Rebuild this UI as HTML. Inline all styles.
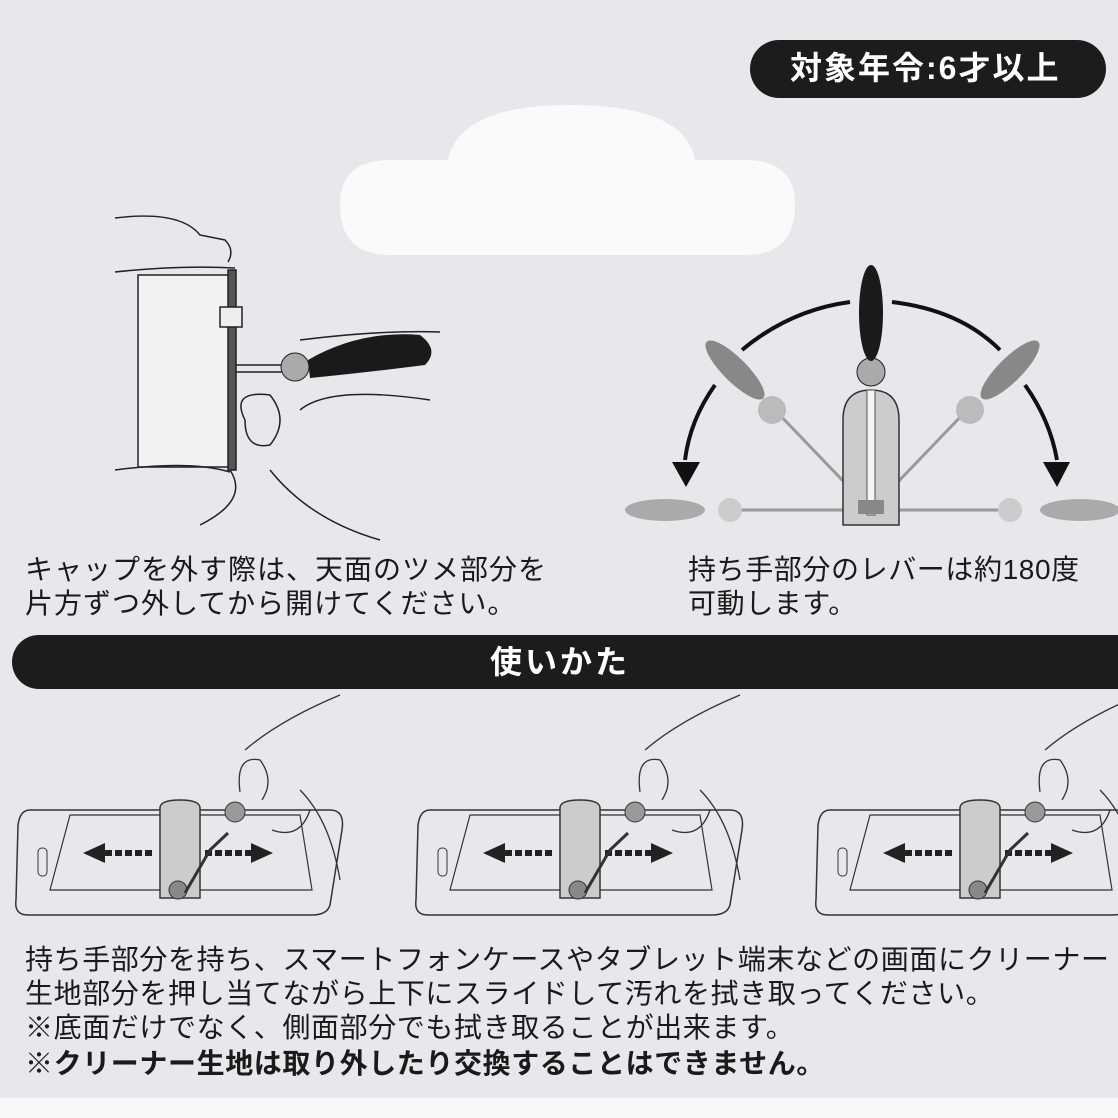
<!DOCTYPE html>
<html><head><meta charset="utf-8"><style>
body{margin:0;width:1118px;height:1118px;overflow:hidden;background:#e8e7ec;position:relative;font-family:"Liberation Sans","Noto Sans CJK JP",sans-serif;color:#1a1a1a}
.t{position:absolute;font-size:28px;letter-spacing:0.6px;white-space:nowrap;line-height:1}
.b{font-weight:bold}
</style></head><body>
<div style="position:absolute;left:750px;top:40px;width:356px;height:58px;background:#1c1c1c;border-radius:29px"></div>
<div class="t b" style="left:790px;top:52px;color:#fff;font-size:32px;letter-spacing:2px">対象年令:6才以上</div>

<svg style="position:absolute;left:0;top:0" width="1118" height="1118">
<path d="M390 160 H448 Q460 105 570 105 Q685 105 695 160 H745 Q795 160 795 205 Q795 255 745 255 H390 Q340 255 340 205 Q340 160 390 160Z" fill="#fafafb"/>
<g fill="none" stroke="#222" stroke-width="1.5">
<path d="M115 218 Q180 210 200 235 L225 240 Q235 250 228 262"/>
<path d="M115 272 Q180 265 235 268"/>
<rect x="138" y="275" width="94" height="192" fill="#f2f2f4"/>
<rect x="228" y="270" width="8" height="200" fill="#555"/>
<rect x="220" y="307" width="22" height="20" fill="#eee"/>
<path d="M236 365 H290 M236 372 H290"/>
<path d="M300 340 Q380 330 440 332"/>
<path d="M300 410 Q330 385 430 400"/>
<path d="M245 420 Q230 390 270 395 Q290 420 270 445 Q245 450 245 420"/>
<path d="M230 470 Q250 500 200 525 M270 470 Q310 520 380 540"/>
<path d="M115 470 Q190 460 230 472"/>
</g>
<circle cx="295" cy="367" r="14" fill="#aaa" stroke="#222"/>
<path d="M308 360 Q360 330 420 335 Q440 350 425 365 Q370 372 310 378Z" fill="#1a1a1a"/>
<g fill="none" stroke="#111" stroke-width="4">
<path d="M742 350 Q790 310 850 302"/>
<path d="M892 302 Q960 310 1000 350"/>
<path d="M715 385 Q690 420 685 460"/>
<path d="M1025 385 Q1050 420 1057 460"/>
</g>
<path d="M672 462 H700 L686 487Z M1043 462 H1070 L1057 487Z" fill="#111"/>
<g stroke="#999" stroke-width="3"><line x1="871" y1="510" x2="775" y2="410"/><line x1="871" y1="510" x2="967" y2="410"/><line x1="728" y1="510" x2="1010" y2="510"/></g>
<ellipse cx="665" cy="510" rx="40" ry="11" fill="#aaa"/><ellipse cx="1080" cy="510" rx="40" ry="11" fill="#aaa"/>
<circle cx="730" cy="510" r="12" fill="#ccc"/><circle cx="1010" cy="510" r="12" fill="#ccc"/>
<ellipse cx="735" cy="370" rx="12" ry="40" fill="#888" transform="rotate(-45 735 370)"/>
<ellipse cx="1010" cy="370" rx="12" ry="40" fill="#888" transform="rotate(45 1010 370)"/>
<circle cx="772" cy="410" r="14" fill="#bbb"/><circle cx="970" cy="410" r="14" fill="#bbb"/>
<path d="M843 525 V420 Q843 390 871 390 Q899 390 899 420 V525Z" fill="#ccc" stroke="#333" stroke-width="1.5"/>
<rect x="867" y="390" width="8" height="125" fill="#f5f5f5" stroke="#555"/>
<rect x="858" y="500" width="26" height="14" fill="#888"/>
<circle cx="871" cy="372" r="14" fill="#aaa" stroke="#222"/>
<ellipse cx="871" cy="313" rx="12" ry="48" fill="#1a1a1a"/>
<defs><g id="ph">
<path d="M30 810 L330 810 Q345 810 342 830 L330 905 Q327 915 312 915 L28 915 Q14 915 16 900 L18 825 Q20 810 30 810Z" fill="none" stroke="#333" stroke-width="1.5"/>
<path d="M70 815 L300 815 L312 890 L50 890Z" fill="none" stroke="#333" stroke-width="1.2"/>
<rect x="38" y="848" width="9" height="28" rx="4" fill="none" stroke="#333"/>
<path d="M83 853 L105 843 V863Z M273 853 L251 843 V863Z" fill="#222"/>
<path d="M105 853 H155 M205 853 H251" stroke="#222" stroke-width="6" stroke-dasharray="7 3"/>
<path d="M160 808 Q160 800 180 800 Q200 800 200 808 V898 H160Z" fill="#ccc" stroke="#333" stroke-width="1.5"/>
<circle cx="178" cy="890" r="9" fill="#888" stroke="#333"/>
<path d="M185 893 L210 850 L228 833" fill="none" stroke="#333" stroke-width="3"/>
<circle cx="235" cy="812" r="10" fill="#999" stroke="#333"/>
<path d="M240 792 Q235 755 260 760 Q275 780 262 800" fill="none" stroke="#333" stroke-width="1.3"/>
<path d="M245 750 Q280 720 340 695 M300 790 Q330 820 340 880 M272 830 Q300 840 310 810" fill="none" stroke="#333" stroke-width="1.3"/>
</g></defs>
<use href="#ph"/><use href="#ph" x="400"/><use href="#ph" x="800"/>
<rect x="0" y="1098" width="1118" height="20" fill="#f7f7f8"/>
</svg>

<div class="t" style="left:25px;top:556px;letter-spacing:1px">キャップを外す際は、天面のツメ部分を</div>
<div class="t" style="left:25px;top:590px;letter-spacing:1px">片方ずつ外してから開けてください。</div>
<div class="t" style="left:688px;top:556px">持ち手部分のレバーは約180度</div>
<div class="t" style="left:688px;top:590px">可動します。</div>

<div style="position:absolute;left:12px;top:635px;width:1120px;height:54px;background:#1c1c1c;border-radius:27px 0 0 27px"></div>
<div class="t b" style="left:490px;top:646px;color:#fff;font-size:32px;letter-spacing:3px">使いかた</div>

<div class="t" style="left:25px;top:946px">持ち手部分を持ち、スマートフォンケースやタブレット端末などの画面にクリーナー</div>
<div class="t" style="left:25px;top:980px">生地部分を押し当てながら上下にスライドして汚れを拭き取ってください。</div>
<div class="t" style="left:25px;top:1014px">※底面だけでなく、側面部分でも拭き取ることが出来ます。</div>
<div class="t b" style="left:25px;top:1050px">※クリーナー生地は取り外したり交換することはできません。</div>
</body></html>
